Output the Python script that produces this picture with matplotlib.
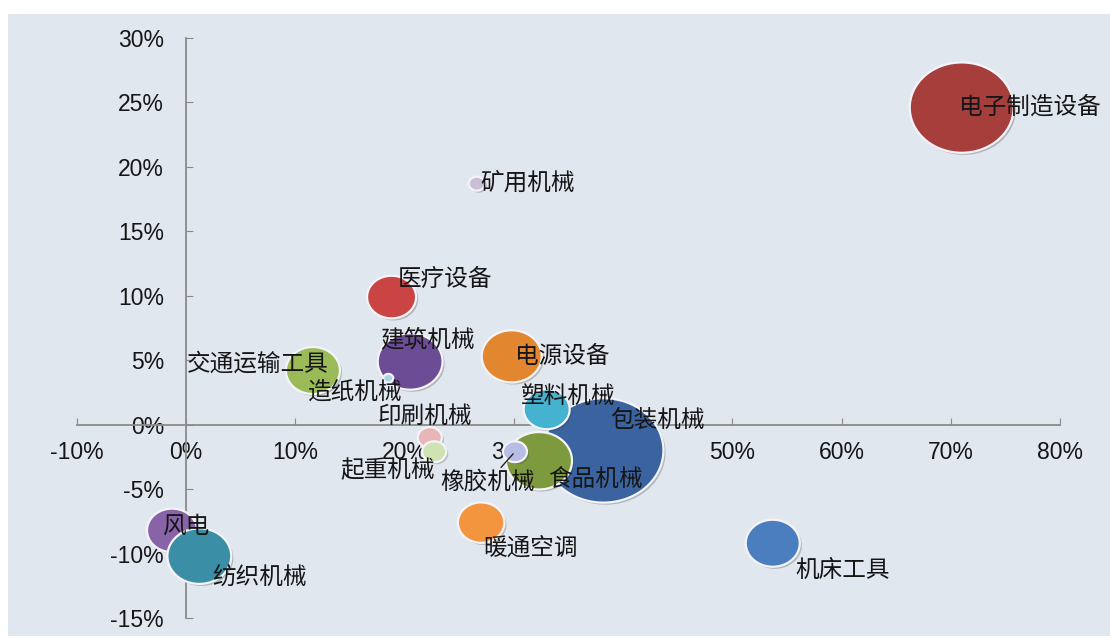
import matplotlib
matplotlib.use("Agg")
import matplotlib.pyplot as plt
import numpy as np
from matplotlib.path import Path
from matplotlib.patches import Rectangle
from matplotlib.ticker import FuncFormatter
import matplotlib.patheffects as pe

# ---------------- data ----------------
names = ["电子制造设备", "矿用机械", "医疗设备", "建筑机械", "交通运输工具", "造纸机械",
         "电源设备", "包装机械", "塑料机械", "食品机械", "橡胶机械", "印刷机械",
         "起重机械", "暖通空调", "风电", "纺织机械", "机床工具"]
x_vals = [71.0, 26.6, 18.8, 20.5, 11.6, 18.5,
          29.8, 38.2, 33.0, 32.3, 30.1, 22.3,
          22.7, 27.0, -1.3, 1.2, 53.7]
y_vals = [24.6, 18.7, 9.9, 4.9, 4.2, 3.6,
          5.3, -2.0, 1.2, -2.8, -2.1, -1.0,
          -2.1, -7.6, -8.2, -10.2, -9.2]
bubble_vals = [27.0, 0.64, 6.0, 10.5, 7.3, 0.25,
               9.0, 36.0, 5.3, 10.9, 1.44, 1.44,
               1.44, 5.4, 6.25, 10.2, 7.3]
x_ticks = [-10, 0, 10, 20, 30, 40, 50, 60, 70, 80]
y_ticks = [-15, -10, -5, 0, 5, 10, 15, 20, 25, 30]

# ---------------- style ----------------
colors = ["#A63E3C", "#CBBFD8", "#C94442", "#6C4D95", "#9BBB59", "#A8D5EA",
          "#E2872F", "#3B63A0", "#45B2CF", "#7D9A3E", "#B8BDE6", "#E8B6B9",
          "#D0E1B2", "#F3953F", "#8963A8", "#3A8FA6", "#4A7EBF"]
# label offsets (pixels, left edge of text relative to bubble centre; +y = down)
label_off = [(-3, 0), (4, 0), (6, -18), (-30, -22), (-126, -6), (-80, 14),
             (3, 0), (7, -30), (-26, -13), (9, 19), (-75, 30), (-52, -21),
             (-94, 19), (2, 26), (-10, -4), (13, 22), (23, 27)]

W, H, DPI = 1110, 639, 100
fig = plt.figure(figsize=(W / DPI, H / DPI), dpi=DPI)
fig.patch.set_facecolor("white")
fig.add_artist(Rectangle((8 / W, 3 / H), 1 - 8 / W, (636 - 14) / H,
                         transform=fig.transFigure, facecolor="#E1E7EF",
                         edgecolor="none", zorder=0))

ax = fig.add_axes([77 / W, 1 - 618 / H, (1060 - 77) / W, (618 - 38) / H])
ax.set_facecolor("none")
ax.set_xlim(-10, 80)
ax.set_ylim(-15, 30)

for s in ["top", "right"]:
    ax.spines[s].set_visible(False)
ax.spines["left"].set_position(("data", 0))
ax.spines["bottom"].set_position(("data", 0))
for s in ["left", "bottom"]:
    ax.spines[s].set_color("#8A8A8A")
    ax.spines[s].set_linewidth(1.3)

ax.set_xticks(x_ticks)
ax.set_yticks(y_ticks)
pct = FuncFormatter(lambda v, p: f"{v:.0f}%")
ax.xaxis.set_major_formatter(pct)
ax.yaxis.set_major_formatter(pct)
ax.tick_params(axis="both", direction="in", length=5, color="#8A8A8A",
               labelsize=16.5, labelcolor="#151515")
ax.tick_params(axis="x", pad=12)
ax.tick_params(axis="y", pad=16)
for lab in ax.get_xticklabels() + ax.get_yticklabels():
    lab.set_fontfamily("Liberation Sans")

# ellipse marker (slightly wider than tall, as in the reference)
t = np.linspace(0, 2 * np.pi, 100)
verts = np.column_stack([1.15 * np.cos(t), np.sin(t)])
ellipse = Path(verts, closed=True)

k = (2 * 10 * 0.72) ** 2  # bubble value -> point^2 (value = (r_px/10)^2)
for i in range(len(names)):
    sc = ax.scatter([x_vals[i]], [y_vals[i]], s=[bubble_vals[i] * k],
                    marker=ellipse, color=colors[i], edgecolors="#F4F4F8",
                    linewidths=1.6, zorder=3 + i * 0.01, clip_on=False)
    sc.set_path_effects([pe.SimplePatchShadow(offset=(1.5, -1.5), alpha=0.25),
                         pe.Normal()])

cjk = ["Noto Sans CJK SC", "DejaVu Sans"]
for i, nm in enumerate(names):
    dx, dy = label_off[i]
    kw = {}
    if nm == "橡胶机械":
        kw["arrowprops"] = dict(arrowstyle="-", color="#222222", lw=1.0,
                                shrinkA=0, shrinkB=2, relpos=(0.62, 1.0))
    ax.annotate(nm, (x_vals[i], y_vals[i]), xytext=(dx * 0.72, -dy * 0.72),
                textcoords="offset points", ha="left", va="center",
                fontsize=17, family=cjk, color="#151515", zorder=10, **kw)

fig.savefig("out.png", dpi=DPI)
